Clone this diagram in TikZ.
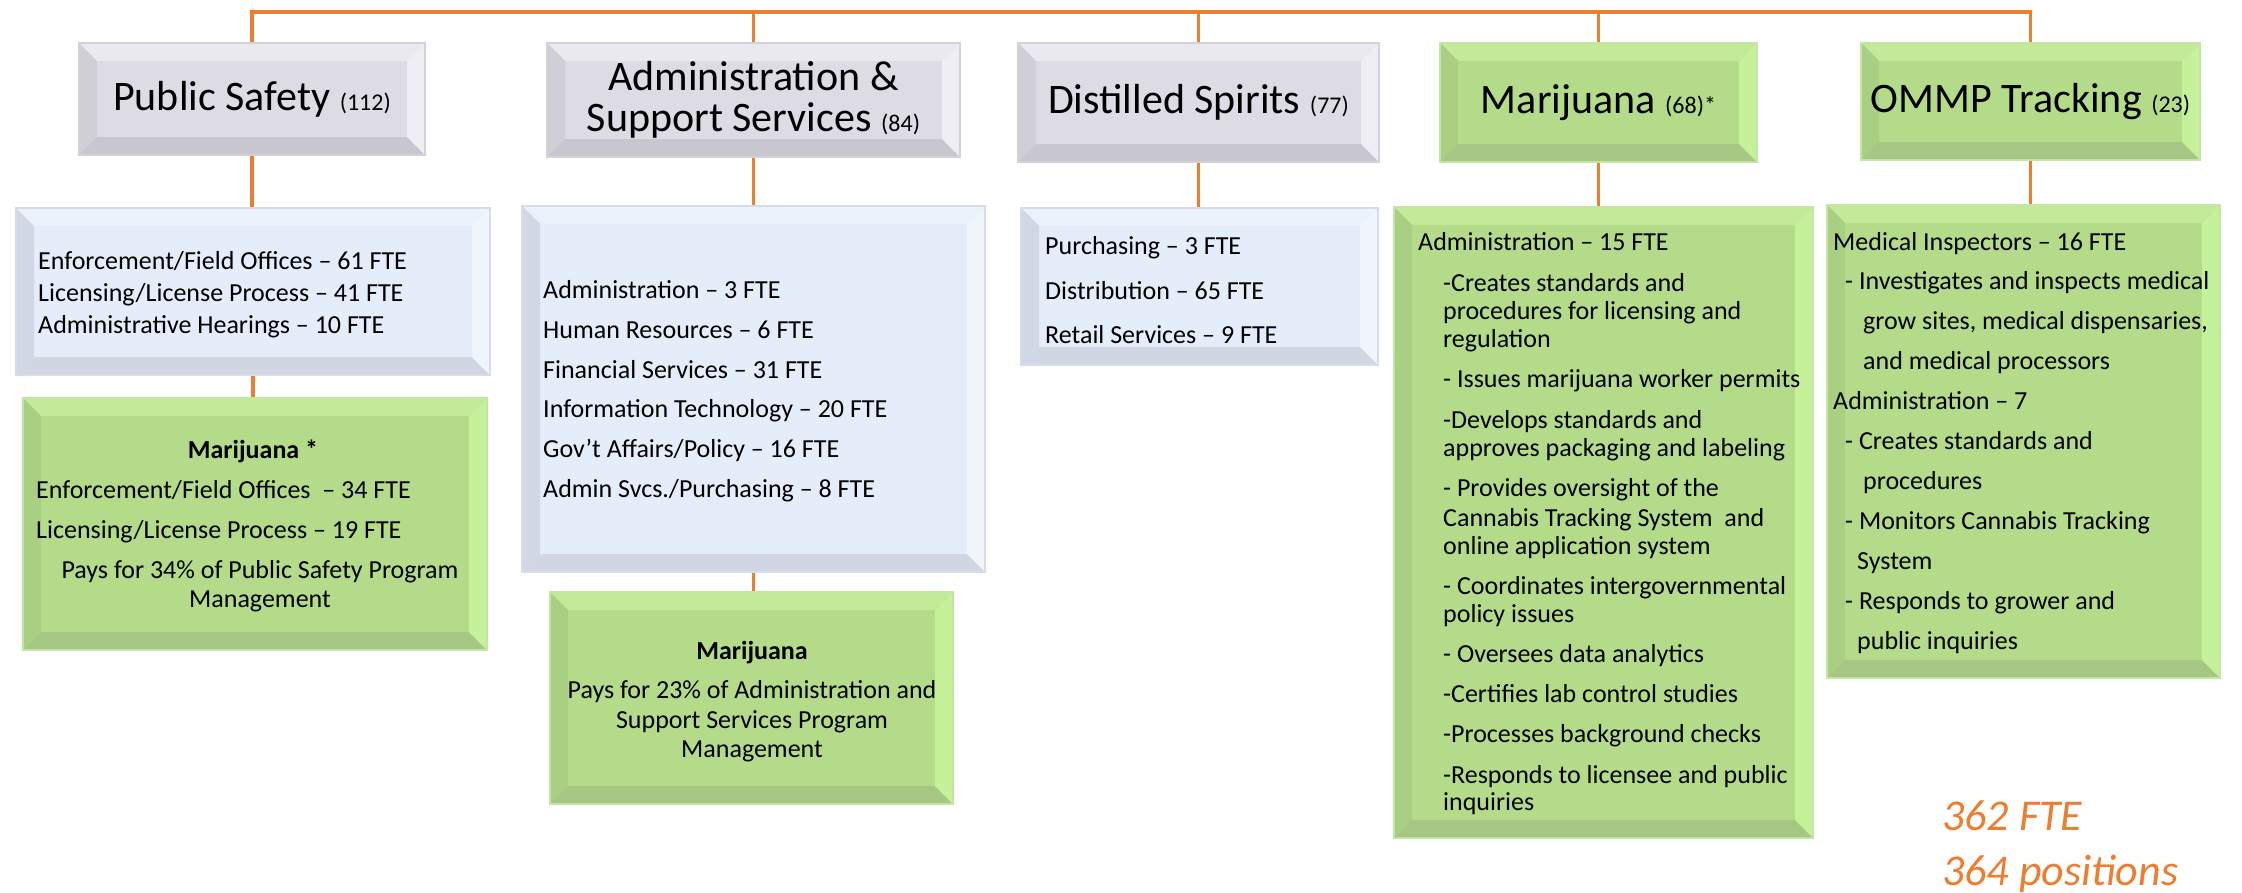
\documentclass[tikz,border=0pt]{standalone}
\usepackage{fontspec}
\setmainfont{Carlito}
\definecolor{orng}{HTML}{ED7D31}
\definecolor{grface}{HTML}{DDDCE4}
\definecolor{grtop}{HTML}{E9E9EF}
\definecolor{grleft}{HTML}{D0CFD7}
\definecolor{grbot}{HTML}{C8C7CF}
\definecolor{grright}{HTML}{EEEEF4}
\definecolor{grline}{HTML}{D2D2D9}
\definecolor{blface}{HTML}{E4EDFA}
\definecolor{bltop}{HTML}{ECF2FB}
\definecolor{blleft}{HTML}{D0D8E5}
\definecolor{blbot}{HTML}{D0D7E3}
\definecolor{blright}{HTML}{F0F5FC}
\definecolor{blline}{HTML}{D6DDE8}
\definecolor{gnface}{HTML}{B4DB8A}
\definecolor{gntop}{HTML}{C2EA98}
\definecolor{gnleft}{HTML}{A8CF82}
\definecolor{gnbot}{HTML}{A6C684}
\definecolor{gnright}{HTML}{C6F19B}
\definecolor{gnline}{HTML}{C4E6A5}
\newcommand\hdnum[1]{{\fontsize{24}{24}\selectfont #1}}
\begin{document}
\begin{tikzpicture}[x=1pt,y=-1pt,
  conn/.style={draw=orng, line width=3.5pt},
  bevelbox/.style={fill=#1face, draw=#1line, line width=1.5pt, inner sep=0pt, align=center,
    path picture={
      \fill[#1top] (path picture bounding box.north west) -- (path picture bounding box.north east) -- ([xshift=-18pt,yshift=-18pt]path picture bounding box.north east) -- ([xshift=18pt,yshift=-18pt]path picture bounding box.north west) -- cycle;
      \fill[#1left] (path picture bounding box.north west) -- ([xshift=18pt,yshift=-18pt]path picture bounding box.north west) -- ([xshift=18pt,yshift=18pt]path picture bounding box.south west) -- (path picture bounding box.south west) -- cycle;
      \fill[#1bot] (path picture bounding box.south west) -- ([xshift=18pt,yshift=18pt]path picture bounding box.south west) -- ([xshift=-18pt,yshift=18pt]path picture bounding box.south east) -- (path picture bounding box.south east) -- cycle;
      \fill[#1right] (path picture bounding box.south east) -- ([xshift=-18pt,yshift=18pt]path picture bounding box.south east) -- ([xshift=-18pt,yshift=-18pt]path picture bounding box.north east) -- (path picture bounding box.north east) -- cycle;
    }},
  head/.style={font=\fontsize{42}{41}\selectfont},
  tx/.style={font=\fontsize{26}{30}\selectfont, anchor=base west, inner sep=0pt},
  txc/.style={font=\fontsize{26}{30}\selectfont, anchor=base, inner sep=0pt},
  txb/.style={font=\fontsize{26}{30}\selectfont\bfseries, anchor=base, inner sep=0pt},
  foot/.style={font=\fontsize{44}{44}\selectfont\itshape, text=orng, anchor=base west, inner sep=0pt}
]
\useasboundingbox (0,0) rectangle (2242,892);
\fill[white] (0,0) rectangle (2242,892);

% top-level boxes
\node[bevelbox=gr, head, minimum width=346pt, minimum height=112pt] (ps) at (252,99) {Public Safety \hdnum{(112)}};
\node[bevelbox=gr, head, minimum width=413pt, minimum height=114pt] (as) at (753.5,100) {Administration \&\\Support Services \hdnum{(84)}};
\node[bevelbox=gr, head, minimum width=361pt, minimum height=119pt] (ds) at (1198.5,102.5) {Distilled Spirits \hdnum{(77)}};
\node[bevelbox=gn, head, minimum width=317pt, minimum height=119pt] (mj) at (1598.5,102.5) {Marijuana \hdnum{(68)*}};
\node[bevelbox=gn, head, minimum width=339pt, minimum height=117pt] (om) at (2030.5,101.5) {OMMP Tracking \hdnum{(23)}};

% second-level boxes
\node[bevelbox=bl, minimum width=474pt, minimum height=167pt] (pss) at (253,291.5) {};
\node[bevelbox=gn, minimum width=464pt, minimum height=252pt] (psm) at (255,524) {};
\node[bevelbox=bl, minimum width=463pt, minimum height=366pt] (ass) at (753.5,389) {};
\node[bevelbox=gn, minimum width=403pt, minimum height=212pt] (asm) at (751.5,698) {};
\node[bevelbox=bl, minimum width=357pt, minimum height=157pt] (dss) at (1199.5,286.5) {};
\node[bevelbox=gn, minimum width=419pt, minimum height=631pt] (mjs) at (1603.5,522.5) {};
\node[bevelbox=gn, minimum width=393pt, minimum height=473pt] (oms) at (2023.5,441.5) {};

% connectors
\coordinate (bus) at (0,12);
\draw[conn] (ps.north) -- (ps.north |- bus) -- (om.north |- bus) -- (om.north);
\draw[conn] (as.north) -- (as.north |- bus);
\draw[conn] (ds.north) -- (ds.north |- bus);
\draw[conn] (mj.north) -- (mj.north |- bus);
\draw[conn] (ps.south) -- (ps.south |- pss.north);
\draw[conn] (pss.south) -- (pss.south |- psm.north);
\draw[conn] (as.south) -- (as.south |- ass.north);
\draw[conn] (ass.south) -- (ass.south |- asm.north);
\draw[conn] (ds.south) -- (ds.south |- dss.north);
\draw[conn] (mj.south) -- (mj.south |- mjs.north);
\draw[conn] (om.south) -- (om.south |- oms.north);

% Public Safety details
\node[tx] (pss1) at (38,269) {Enforcement/Field Offices – 61 FTE};
\node[tx] (pss2) at (38,301) {Licensing/License Process – 41 FTE};
\node[tx] (pss3) at (38,333) {Administrative Hearings – 10 FTE};
\node[txb] (psm1) at (253,458) {Marijuana *};
\node[tx] (psm2) at (36,498) {Enforcement/Field Offices\ \ – 34 FTE};
\node[tx] (psm3) at (36,538) {Licensing/License Process – 19 FTE};
\node[txc] (psm4) at (260,578) {Pays for 34\% of Public Safety Program};
\node[txc] (psm5) at (260,607) {Management};

% Administration details
\node[tx] (ass1) at (543,298) {Administration – 3 FTE};
\node[tx] (ass2) at (543,338) {Human Resources – 6 FTE};
\node[tx] (ass3) at (543,378) {Financial Services – 31 FTE};
\node[tx] (ass4) at (543,417) {Information Technology – 20 FTE};
\node[tx] (ass5) at (543,457) {Gov’t Affairs/Policy – 16 FTE};
\node[tx] (ass6) at (543,497) {Admin Svcs./Purchasing – 8 FTE};
\node[txb] (asm1) at (752,659) {Marijuana};
\node[txc] (asm2) at (752,698) {Pays for 23\% of Administration and};
\node[txc] (asm3) at (752,728) {Support Services Program};
\node[txc] (asm4) at (752,757) {Management};

% Distilled Spirits details
\node[tx] (dss1) at (1045,254) {Purchasing – 3 FTE};
\node[tx] (dss2) at (1045,299) {Distribution – 65 FTE};
\node[tx] (dss3) at (1045,343) {Retail Services – 9 FTE};

% Marijuana details
\node[tx] (mjs0) at (1418,250) {Administration – 15 FTE};
\node[tx] (mjs1) at (1443,291) {-Creates standards and};
\node[tx] (mjs2) at (1443,319) {procedures for licensing and};
\node[tx] (mjs3) at (1443,347) {regulation};
\node[tx] (mjs4) at (1443,387) {- Issues marijuana worker permits};
\node[tx] (mjs5) at (1443,428) {-Develops standards and};
\node[tx] (mjs6) at (1443,456) {approves packaging and labeling};
\node[tx] (mjs7) at (1443,496) {- Provides oversight of the};
\node[tx] (mjs8) at (1443,526) {Cannabis Tracking System\ \ and};
\node[tx] (mjs9) at (1443,554) {online application system};
\node[tx] (mjs10) at (1443,594) {- Coordinates intergovernmental};
\node[tx] (mjs11) at (1443,622) {policy issues};
\node[tx] (mjs12) at (1443,662) {- Oversees data analytics};
\node[tx] (mjs13) at (1443,702) {-Certifies lab control studies};
\node[tx] (mjs14) at (1443,742) {-Processes background checks};
\node[tx] (mjs15) at (1443,783) {-Responds to licensee and public};
\node[tx] (mjs16) at (1443,810) {inquiries};

% OMMP details
\node[tx] (oms1) at (1833,250) {Medical Inspectors – 16 FTE};
\node[tx] (oms2) at (1845,289) {- Investigates and inspects medical};
\node[tx] (oms3) at (1863,329) {grow sites, medical dispensaries,};
\node[tx] (oms4) at (1863,369) {and medical processors};
\node[tx] (oms5) at (1833,409) {Administration – 7};
\node[tx] (oms6) at (1845,449) {- Creates standards and};
\node[tx] (oms7) at (1863,489) {procedures};
\node[tx] (oms8) at (1845,529) {- Monitors Cannabis Tracking};
\node[tx] (oms9) at (1857,569) {System};
\node[tx] (oms10) at (1845,609) {- Responds to grower and};
\node[tx] (oms11) at (1857,649) {public inquiries};

% totals
\node[foot] (tot1) at (1942,830) {362 FTE};
\node[foot] (tot2) at (1942,885) {364 positions};
\end{tikzpicture}
\end{document}
